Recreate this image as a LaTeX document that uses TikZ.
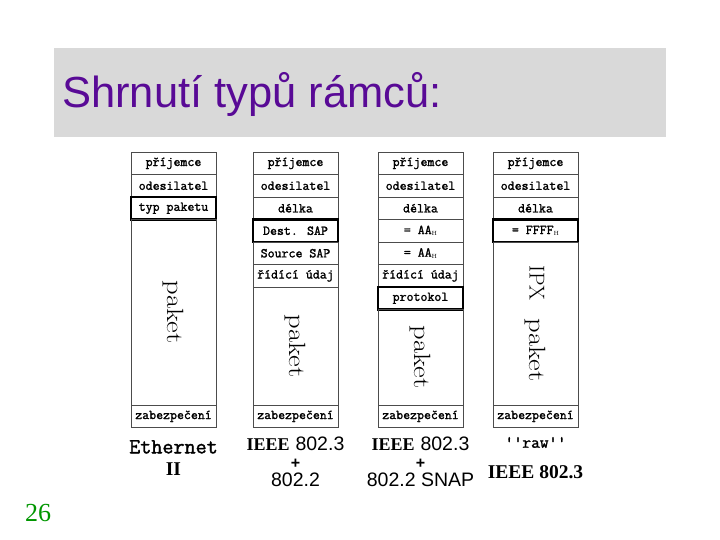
\documentclass[tikz,border=0pt]{standalone}
\usepackage{fontspec}
\usetikzlibrary{positioning}

\newfontfamily\titlefont{Liberation Sans}
\newfontfamily\labserif{Liberation Serif}
\newfontfamily\cellfont{Latin Modern Mono}[FakeBold=1.6]

\definecolor{titleviolet}{RGB}{89,10,150}
\definecolor{bandgray}{RGB}{217,217,217}
\definecolor{pagegreen}{RGB}{0,150,0}

\newcommand{\hexsub}{\raisebox{-0.3ex}{\fontsize{6}{6}\selectfont\rmfamily H}}
\newcommand{\paketword}{\scalebox{1.22}[1]{\rmfamily\fontsize{23.5}{24}\selectfont paket}}
\newcommand{\tick}{\textquotesingle}

\begin{document}
\begin{tikzpicture}[x=1pt,y=-1pt,node distance=0pt,
    cell/.style={draw=black!70,line width=0.6pt,minimum width=85pt,minimum height=22.5pt,
        inner sep=0pt,outer sep=0pt,font=\cellfont\fontsize{13.5}{15}\selectfont},
    keycell/.style={cell,draw=black,line width=2.8pt},
    payload/.style={cell,font=\rmfamily},
    framename/.style={align=center,inner sep=0pt,font=\fontsize{19.5}{18}\selectfont}]
    \useasboundingbox (0,0) rectangle (720,540);
    \fill[bandgray] (54,48) rectangle (666,137);
    \node[anchor=base west,inner sep=0pt,text=titleviolet,font=\titlefont\fontsize{43.5}{44}\selectfont]
        (title) at (62,108) {Shrnutí typů rámců:};

    % Ethernet II
    \node[cell,anchor=north] (e1) at (173.5,152) {příjemce};
    \node[cell,below=of e1] (e2) {odesilatel};
    \node[keycell,below=of e2] (e3) {typ paketu};
    \node[payload,minimum height=185.5pt,below=of e3] (e4) {\rotatebox{-90}{\paketword}};
    \node[cell,below=of e4] (e5) {zabezpečení};
    \node[framename,font=\fontsize{21.5}{22}\selectfont,below=12.5pt of e5] (en)
        {{\cellfont Ethernet}\\{\labserif\bfseries\fontsize{19.5}{22}\selectfont II}};

    % IEEE 802.3 + 802.2
    \node[cell,anchor=north] (l1) at (295.5,152) {příjemce};
    \node[cell,below=of l1] (l2) {odesilatel};
    \node[cell,below=of l2] (l3) {délka};
    \node[keycell,below=of l3] (l4) {Dest. SAP};
    \node[cell,below=of l4] (l5) {Source SAP};
    \node[cell,below=of l5] (l6) {řídící údaj};
    \node[payload,minimum height=118pt,below=of l6] (l7) {\rotatebox{-90}{\paketword}};
    \node[cell,below=of l7] (l8) {zabezpečení};
    \node[framename,below=9pt of l8] (ln)
        {{\labserif\bfseries\fontsize{18}{18}\selectfont IEEE} {\titlefont 802.3}\\{\titlefont\bfseries\fontsize{16}{18}\selectfont +}\\{\titlefont 802.2}};

    % IEEE 802.3 + 802.2 SNAP
    \node[cell,anchor=north] (s1) at (420.5,152) {příjemce};
    \node[cell,below=of s1] (s2) {odesilatel};
    \node[cell,below=of s2] (s3) {délka};
    \node[cell,below=of s3] (s4) {= AA\hexsub};
    \node[cell,below=of s4] (s5) {= AA\hexsub};
    \node[cell,below=of s5] (s6) {řídící údaj};
    \node[keycell,below=of s6] (s7) {protokol};
    \node[payload,minimum height=95.5pt,below=of s7] (s8) {\rotatebox{-90}{\paketword}};
    \node[cell,below=of s8] (s9) {zabezpečení};
    \node[framename,below=9pt of s9] (sn)
        {{\labserif\bfseries\fontsize{18}{18}\selectfont IEEE} {\titlefont 802.3}\\{\titlefont\bfseries\fontsize{16}{18}\selectfont +}\\{\titlefont 802.2 SNAP}};

    % raw IEEE 802.3
    \node[cell,anchor=north] (r1) at (535.5,152) {příjemce};
    \node[cell,below=of r1] (r2) {odesilatel};
    \node[cell,below=of r2] (r3) {délka};
    \node[keycell,below=of r3] (r4) {= FFFF\hexsub};
    \node[payload,minimum height=163pt,below=of r4] (r5)
        {\rotatebox{-90}{\fontsize{21.5}{22}\selectfont IPX\hspace{18pt}\paketword}};
    \node[cell,below=of r5] (r6) {zabezpečení};
    \node[framename,below=9.5pt of r6] (rn)
        {{\cellfont\fontsize{17}{17}\selectfont\tick\tick raw\tick\tick}\\[13pt]{\labserif\bfseries IEEE 802.3}};

    \node[anchor=base west,inner sep=0pt,text=pagegreen,font=\labserif\fontsize{26}{26}\selectfont]
        (page) at (25,521) {26};
\end{tikzpicture}
\end{document}
